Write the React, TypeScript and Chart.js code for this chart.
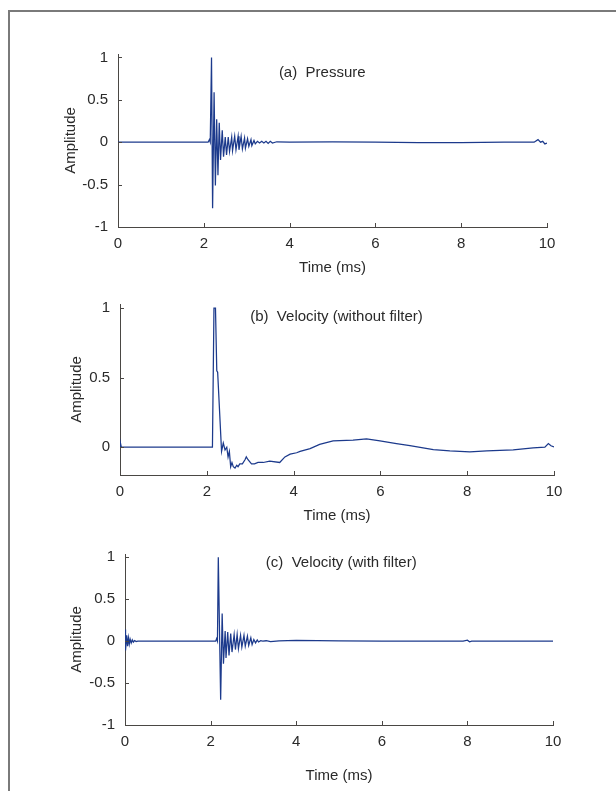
import React, { useEffect, useRef } from "react";
import { Chart, registerables } from "chart.js";

Chart.register(...registerables);

// ---------- data ----------
const pressureTime = [
  0, 2.1, 2.13, 2.15, 2.18, 2.205, 2.24, 2.27, 2.3, 2.33, 2.36, 2.39, 2.43, 2.46, 2.5, 2.53, 2.57, 2.6,
  2.65, 2.67, 2.72, 2.75, 2.8, 2.82, 2.87, 2.9, 2.95, 2.97, 3.02, 3.05, 3.1, 3.12, 3.17, 3.2, 3.25, 3.3,
  3.35, 3.4, 3.45, 3.5, 3.55, 3.6, 3.7, 4.0, 5.0, 6.0, 7.0, 8.0, 9.0, 9.7, 9.79, 9.85, 9.9, 9.95, 10.0,
];
const pressureAmp = [
  0, 0, 0.03, 0.0, 1.0, -0.78, 0.59, -0.51, 0.27, -0.39, 0.23, -0.21, 0.14, -0.17, 0.06, -0.15, 0.06, -0.11,
  0.06, -0.1, 0.07, -0.09, 0.07, -0.09, 0.07, -0.08, 0.05, -0.07, 0.04, -0.05, 0.03, -0.04, 0.02, -0.02, 0.01, -0.01,
  0.01, -0.01, 0.01, -0.015, 0.01, -0.01, 0.005, 0, 0.005, 0, -0.005, -0.005, 0, 0, 0.03, 0.0, 0.01, -0.02, -0.01,
];

const velRawTime = [
  0, 0.01, 0.03, 0.1, 1.0, 2.0, 2.13, 2.165, 2.2, 2.23, 2.25, 2.34, 2.38, 2.42, 2.46, 2.49, 2.52, 2.55,
  2.58, 2.61, 2.65, 2.69, 2.72, 2.76, 2.82, 2.88, 2.91, 2.95, 3.03, 3.1, 3.18, 3.3, 3.45, 3.68, 3.8, 3.92,
  4.07, 4.15, 4.38, 4.6, 4.91, 5.37, 5.68, 5.99, 6.37, 6.68, 7.22, 7.6, 8.06, 8.45, 9.06, 9.52, 9.79, 9.87,
  9.93, 10.0,
];
const velRawAmp = [
  0, 0.03, 0.0, 0.0, 0.0, 0.0, 0.0, 1.0, 1.0, 0.55, 0.54, -0.03, 0.03, -0.02, 0.0, -0.07, -0.03, -0.14,
  -0.11, -0.14, -0.15, -0.13, -0.14, -0.12, -0.12, -0.09, -0.07, -0.09, -0.12, -0.12, -0.11, -0.11, -0.1, -0.11, -0.07, -0.05,
  -0.04, -0.03, -0.01, 0.02, 0.045, 0.05, 0.06, 0.045, 0.026, 0.012, -0.017, -0.026, -0.033, -0.026, -0.019, -0.005, 0.0, 0.026,
  0.01, 0.002,
];

const velFiltTime = [
  0, 0.005, 0.02, 0.04, 0.06, 0.08, 0.1, 0.12, 0.145, 0.17, 0.195, 0.225, 0.26, 0.3, 1.0, 2.0, 2.12, 2.14,
  2.16, 2.18, 2.235, 2.27, 2.3, 2.34, 2.36, 2.4, 2.43, 2.47, 2.5, 2.55, 2.58, 2.62, 2.65, 2.7, 2.73, 2.78,
  2.81, 2.86, 2.89, 2.94, 2.97, 3.01, 3.05, 3.09, 3.12, 3.17, 3.22, 3.3, 3.4, 3.6, 4.0, 4.5, 5.0, 6.0,
  7.0, 7.9, 8.0, 8.05, 8.1, 9.0, 10.0,
];
const velFiltAmp = [
  0, 0.14, -0.11, 0.07, -0.06, 0.04, -0.035, 0.025, -0.02, 0.015, -0.01, 0.008, -0.005, 0, 0, 0, 0, 0.03,
  0.0, 1.0, -0.7, 0.33, -0.27, 0.12, -0.2, 0.11, -0.17, 0.09, -0.13, 0.08, -0.1, 0.08, -0.09, 0.07, -0.07, 0.07,
  -0.06, 0.06, -0.05, 0.04, -0.04, 0.02, -0.02, 0.015, -0.01, 0.005, 0, 0.005, -0.005, 0.003, 0.01, 0.008, 0.005, 0,
  0, 0, 0.012, -0.008, 0, 0, 0,
];

const xTickValues = [0, 2, 4, 6, 8, 10];
const yTicksSymmetric = [-1, -0.5, 0, 0.5, 1];
const yTicksVelocityRaw = [0, 0.5, 1];

const panelTitles = ["(a)  Pressure", "(b)  Velocity (without filter)", "(c)  Velocity (with filter)"];

// ---------- styles ----------
const FONT = "'Liberation Sans', Arial, Helvetica, sans-serif";
const TEXT = "#2a2a2a";
const AXIS = "#4a4744";
const LINE = "#1c3a8c";

const inwardTicks = {
  id: "inwardTicks",
  afterDatasetsDraw(chart: any) {
    const { ctx, chartArea, scales } = chart;
    const x = scales.x;
    const y = scales.y;
    ctx.save();
    ctx.strokeStyle = AXIS;
    ctx.lineWidth = 1;
    ctx.beginPath();
    x.ticks.forEach((t: any) => {
      const px = Math.round(x.getPixelForValue(t.value)) + 0.5;
      ctx.moveTo(px, chartArea.bottom);
      ctx.lineTo(px, chartArea.bottom - 4);
    });
    y.ticks.forEach((t: any) => {
      const py = Math.round(y.getPixelForValue(t.value)) + 0.5;
      ctx.moveTo(chartArea.left, py);
      ctx.lineTo(chartArea.left + 4, py);
    });
    ctx.stroke();
    ctx.restore();
  },
};

const panelLabel = {
  id: "panelLabel",
  afterDraw(chart: any, _args: any, opts: any) {
    if (!opts || !opts.text) return;
    const { ctx, scales } = chart;
    ctx.save();
    ctx.fillStyle = TEXT;
    ctx.font = `15px ${FONT}`;
    ctx.textAlign = "left";
    ctx.textBaseline = "middle";
    ctx.fillText(opts.text, scales.x.getPixelForValue(opts.atX), scales.y.getPixelForValue(opts.atY));
    ctx.restore();
  },
};

type Panel = {
  times: number[];
  amps: number[];
  yMin: number;
  yMax: number;
  yTicks: number[];
  title: string;
  labelAt: [number, number];
  top: number;
  height: number;
  padTop: number;
  padRight: number;
  yWidth: number;
  xHeight: number;
  yTitlePad: number;
  xTitlePad: number;
};

const panels: Panel[] = [
  {
    times: pressureTime, amps: pressureAmp, yMin: -1, yMax: 1.04, yTicks: yTicksSymmetric,
    title: panelTitles[0], labelAt: [3.75, 0.82],
    top: 20, height: 265, padTop: 34, padRight: 69, yWidth: 118, xHeight: 58, yTitlePad: 62, xTitlePad: 8,
  },
  {
    times: velRawTime, amps: velRawAmp, yMin: -0.2, yMax: 1.03, yTicks: yTicksVelocityRaw,
    title: panelTitles[1], labelAt: [3.0, 0.94],
    top: 285, height: 245, padTop: 18, padRight: 62, yWidth: 120, xHeight: 55, yTitlePad: 68, xTitlePad: 5,
  },
  {
    times: velFiltTime, amps: velFiltAmp, yMin: -1, yMax: 1.04, yTicks: yTicksSymmetric,
    title: panelTitles[2], labelAt: [3.29, 0.93],
    top: 530, height: 261, padTop: 24, padRight: 63, yWidth: 125, xHeight: 66, yTitlePad: 68, xTitlePad: 6,
  },
];

function PanelChart({ p }: { p: Panel }) {
  const ref = useRef<HTMLCanvasElement | null>(null);
  useEffect(() => {
    if (!ref.current) return;
    const font = { family: FONT, size: 15 };
    const chart = new Chart(ref.current, {
      type: "line",
      data: {
        datasets: [
          {
            data: p.times.map((t, i) => ({ x: t, y: p.amps[i] })),
            borderColor: LINE,
            borderWidth: 1.25,
            pointRadius: 0,
            tension: 0,
            fill: false,
          },
        ],
      },
      options: {
        animation: false,
        responsive: false,
        devicePixelRatio: 1,
        events: [],
        layout: { padding: { left: 0, right: p.padRight, top: p.padTop, bottom: 0 } },
        plugins: {
          legend: { display: false },
          tooltip: { enabled: false },
          panelLabel: { text: p.title, atX: p.labelAt[0], atY: p.labelAt[1] },
        } as any,
        scales: {
          x: {
            type: "linear",
            min: 0,
            max: 10,
            afterBuildTicks: (s: any) => {
              s.ticks = xTickValues.map((v) => ({ value: v }));
            },
            afterFit: (s: any) => {
              s.height = p.xHeight;
            },
            grid: { display: false, drawTicks: false },
            border: { display: true, color: AXIS, width: 1 },
            ticks: {
              padding: 8,
              color: TEXT,
              font,
              maxRotation: 0,
              autoSkip: false,
              callback: (v: any) => String(v),
            },
            title: {
              display: true,
              text: "Time (ms)",
              color: TEXT,
              font,
              padding: { top: 0, bottom: p.xTitlePad },
            },
          },
          y: {
            type: "linear",
            min: p.yMin,
            max: p.yMax,
            afterBuildTicks: (s: any) => {
              s.ticks = p.yTicks.map((v) => ({ value: v }));
            },
            afterFit: (s: any) => {
              s.width = p.yWidth;
            },
            grid: { display: false, drawTicks: false },
            border: { display: true, color: AXIS, width: 1 },
            ticks: {
              padding: 10,
              color: TEXT,
              font,
              autoSkip: false,
              callback: (v: any) => String(v),
            },
            title: {
              display: true,
              text: "Amplitude",
              color: TEXT,
              font,
              padding: { top: p.yTitlePad, bottom: 0 },
            },
          },
        },
      },
      plugins: [inwardTicks, panelLabel],
    } as any);
    return () => chart.destroy();
  }, [p]);
  return (
    <canvas
      ref={ref}
      width={616}
      height={p.height}
      style={{ position: "absolute", left: 0, top: p.top, width: 616, height: p.height }}
    />
  );
}

export default function App() {
  return (
    <div
      style={{
        position: "fixed",
        left: 0,
        top: 0,
        width: 616,
        height: 791,
        overflow: "hidden",
        background: "#fff",
      }}
    >
      <div
        style={{
          position: "absolute",
          left: 8,
          top: 10,
          width: 700,
          height: 900,
          borderLeft: "2px solid #7a7a7a",
          borderTop: "2px solid #7a7a7a",
          boxSizing: "border-box",
        }}
      />
      {panels.map((p, i) => (
        <PanelChart key={i} p={p} />
      ))}
    </div>
  );
}
